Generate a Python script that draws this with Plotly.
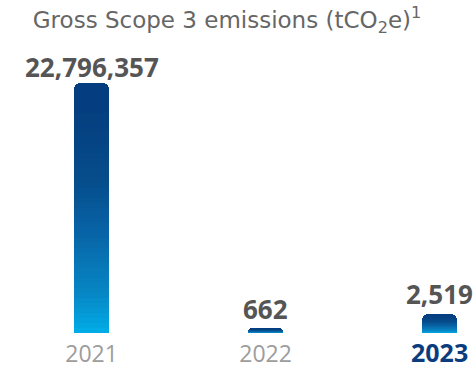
import plotly.graph_objects as go

# Gross Scope 3 emissions by year (tCO2e)
years = ["2021", "2022", "2023"]
emissions = [22796357, 662, 2519]
value_labels = ["22,796,357", "662", "2,519"]
tick_labels = [
    "<span style='color:#9d9d9d'>2021</span>",
    "<span style='color:#9d9d9d'>2022</span>",
    "<span style='color:#0b3d7e;font-size:25px'><b>2023</b></span>",
]

# 2021 sits on its own linear scale; the two small years share a second one
main_year = [0]
small_years = [1, 2]

# vertical gradient: (position from bottom, colour)
stops = [(0.0, (0x00, 0xAE, 0xE8)), (0.15, (0x07, 0x88, 0xC6)),
         (0.4, (0x07, 0x64, 0xA6)), (0.6, (0x06, 0x4E, 0x8D)),
         (0.8, (0x05, 0x42, 0x82)), (1.0, (0x05, 0x3C, 0x7F))]


def colour_at(t):
    for (p0, c0), (p1, c1) in zip(stops[:-1], stops[1:]):
        if t <= p1:
            f = (t - p0) / (p1 - p0)
            return "rgb({},{},{})".format(*[round(a + (b - a) * f) for a, b in zip(c0, c1)])
    return "rgb({},{},{})".format(*stops[-1][1])


# bar split into stacked slices (bottom to top) to build the gradient
n_slices = 44
solid_top = 0.12
fractions = [(1 - solid_top) / n_slices] * n_slices + [solid_top]

fig = go.Figure()
pos = 0.0
for frac in fractions:
    col = colour_at(pos + frac / 2)
    pos += frac
    fig.add_trace(go.Bar(
        x=[i for i in main_year], y=[emissions[i] * frac for i in main_year],
        yaxis="y", width=0.2, marker=dict(color=col, line=dict(width=0)),
        hoverinfo="skip", showlegend=False))
    fig.add_trace(go.Bar(
        x=[i for i in small_years], y=[emissions[i] * frac for i in small_years],
        yaxis="y2", width=0.2, marker=dict(color=col, line=dict(width=0)),
        hoverinfo="skip", showlegend=False))

# value labels above each bar
label_gap = [-4, -1, 0]
for i, (val, lab) in enumerate(zip(emissions, value_labels)):
    fig.add_annotation(
        x=i, y=val, xref="x", yref="y" if i in main_year else "y2",
        text=f"<b>{lab}</b>", showarrow=False, yanchor="bottom",
        yshift=label_gap[i],
        font=dict(family="Open Sans", size=26, color="#555555"))

plot_h = 250
fig.update_layout(
    width=473, height=368,
    margin=dict(l=0, r=0, t=83, b=35),
    paper_bgcolor="white", plot_bgcolor="white",
    barmode="stack", barcornerradius=6,
    title=dict(text="Gross Scope 3 emissions (tCO<sub>2</sub>e)<sup>1</sup>",
               x=0.48, xanchor="center", y=1 - 20 / 368, yanchor="middle",
               yref="container",
               font=dict(family="DejaVu Sans", size=23, color="#666666")),
    xaxis=dict(tickmode="array", tickvals=[0, 1, 2], ticktext=tick_labels,
               range=[-0.526, 2.192],
               showgrid=False, zeroline=False, showline=False, ticks="",
               ticklabelstandoff=5,
               tickfont=dict(family="Open Sans", size=23, color="#9d9d9d")),
    yaxis=dict(range=[0, emissions[0]], visible=False, fixedrange=True),
    yaxis2=dict(range=[0, emissions[2] * plot_h / 19], overlaying="y",
                visible=False, fixedrange=True),
)

fig.write_html("out.html")
